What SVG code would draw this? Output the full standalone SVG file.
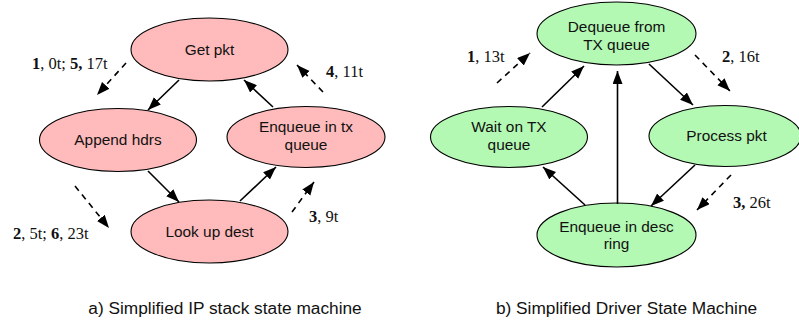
<svg xmlns="http://www.w3.org/2000/svg" width="799" height="322" viewBox="0 0 799 322">
  <defs>
    <marker id="head" markerUnits="userSpaceOnUse" markerWidth="14" markerHeight="11" refX="13" refY="5" orient="auto">
      <path d="M0,0 L13,5 L0,10 z" fill="#000"/>
    </marker>
    <style>
      .ip { fill: #ffbbbb; stroke: #000; stroke-width: 1.1; }
      .drv { fill: #b3f8b3; stroke: #000; stroke-width: 1.1; }
      .lbl { font-family: "Liberation Sans", Arial, sans-serif; font-size: 15.4px; fill: #111; text-anchor: middle; }
      .cap { font-family: "Liberation Sans", Arial, sans-serif; font-size: 17.3px; fill: #111; text-anchor: middle; }
      .step { font-family: "Liberation Serif", "Times New Roman", serif; font-size: 16.5px; fill: #111; }
      .step tspan.b { font-weight: bold; }
      .edge { stroke: #000; stroke-width: 1.6; fill: none; marker-end: url(#head); }
      .seq { stroke: #000; stroke-width: 1.6; fill: none; stroke-dasharray: 6 5; marker-end: url(#head); }
    </style>
  </defs>

  <!-- a) IP stack state machine -->
  <g id="get-pkt">
    <ellipse class="ip" cx="209.5" cy="49.5" rx="78.5" ry="31.5"/>
    <text class="lbl" x="209.5" y="54.5">Get pkt</text>
  </g>
  <g id="append-hdrs">
    <ellipse class="ip" cx="118" cy="140" rx="78.5" ry="31.5"/>
    <text class="lbl" x="118" y="145">Append hdrs</text>
  </g>
  <g id="enqueue-tx">
    <ellipse class="ip" cx="306" cy="137" rx="79" ry="30.5"/>
    <text class="lbl" x="306" y="132">Enqueue in tx</text>
    <text class="lbl" x="306" y="150">queue</text>
  </g>
  <g id="look-up-dest">
    <ellipse class="ip" cx="209.5" cy="231.5" rx="78.5" ry="31.5"/>
    <text class="lbl" x="209.5" y="236.5">Look up dest</text>
  </g>

  <!-- b) Driver state machine -->
  <g id="dequeue-tx">
    <ellipse class="drv" cx="616.5" cy="33.5" rx="79.5" ry="31.5"/>
    <text class="lbl" x="616.5" y="32">Dequeue from</text>
    <text class="lbl" x="616.5" y="50">TX queue</text>
  </g>
  <g id="wait-tx">
    <ellipse class="drv" cx="509" cy="137" rx="78.5" ry="30.5"/>
    <text class="lbl" x="509" y="132">Wait on TX</text>
    <text class="lbl" x="509" y="150">queue</text>
  </g>
  <g id="process-pkt">
    <ellipse class="drv" cx="725" cy="136" rx="76" ry="30.5"/>
    <text class="lbl" x="726.5" y="141">Process pkt</text>
  </g>
  <g id="enqueue-desc">
    <ellipse class="drv" cx="616.5" cy="235" rx="79.5" ry="32"/>
    <text class="lbl" x="616.5" y="231.5">Enqueue in desc</text>
    <text class="lbl" x="616.5" y="249">ring</text>
  </g>

  <g id="connectors">
    <!-- IP stack transitions -->
    <line class="edge" x1="179" y1="80" x2="148" y2="110"/>
    <line class="edge" x1="273" y1="107" x2="244" y2="80"/>
    <line class="edge" x1="148" y1="171" x2="179" y2="202"/>
    <line class="edge" x1="240" y1="201" x2="276" y2="167"/>
    <!-- driver transitions -->
    <line class="edge" x1="542" y1="107" x2="584" y2="66"/>
    <line class="edge" x1="617.5" y1="204" x2="617.5" y2="71"/>
    <line class="edge" x1="649" y1="64" x2="693" y2="105"/>
    <line class="edge" x1="695" y1="165" x2="651" y2="206"/>
    <line class="edge" x1="585" y1="205" x2="543" y2="167"/>
    <!-- step order -->
    <line class="seq" x1="126" y1="63" x2="97" y2="95"/>
    <line class="seq" x1="323" y1="92" x2="297" y2="65"/>
    <line class="seq" x1="75" y1="186" x2="109" y2="228"/>
    <line class="seq" x1="292" y1="212" x2="314" y2="182"/>
    <line class="seq" x1="497" y1="83" x2="530" y2="53"/>
    <line class="seq" x1="695" y1="55" x2="730" y2="91"/>
    <line class="seq" x1="731" y1="175" x2="697" y2="210"/>
  </g>

  <g id="step-labels">
    <text class="step" x="32" y="69"><tspan class="b">1</tspan>, 0t; <tspan class="b">5,</tspan> 17t</text>
    <text class="step" x="326" y="77"><tspan class="b">4</tspan>, 11t</text>
    <text class="step" x="13" y="239"><tspan class="b">2</tspan>, 5t; <tspan class="b">6</tspan>, 23t</text>
    <text class="step" x="309" y="222"><tspan class="b">3</tspan>, 9t</text>
    <text class="step" x="467" y="62"><tspan class="b">1</tspan>, 13t</text>
    <text class="step" x="722" y="62"><tspan class="b">2</tspan>, 16t</text>
    <text class="step" x="733" y="208"><tspan class="b">3,</tspan> 26t</text>
  </g>

  <text class="cap" x="225" y="314">a) Simplified IP stack state machine</text>
  <text class="cap" x="626.5" y="314">b) Simplified Driver State Machine</text>
</svg>
